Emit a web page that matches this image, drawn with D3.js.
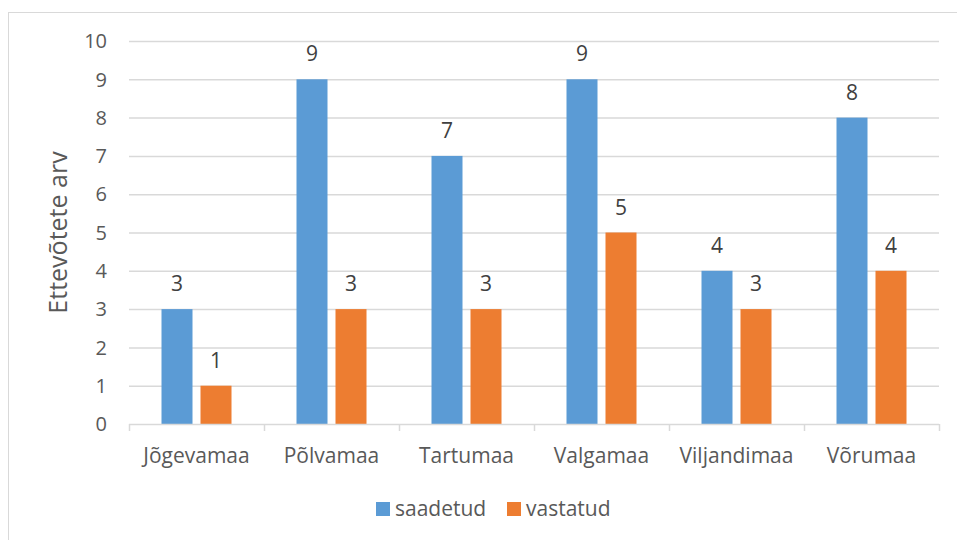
<!DOCTYPE html>
<html>
<head>
<meta charset="utf-8">
<script src="https://cdn.jsdelivr.net/npm/d3@7"></script>
<style>
  body { margin: 0; background: #fff; }
  text { font-family: "Open Sans", "Noto Sans", sans-serif; fill: #595959; }
</style>
</head>
<body>
<div id="chart"></div>
<script>
    // chart data
    const categories = ["Jõgevamaa", "Põlvamaa", "Tartumaa", "Valgamaa", "Viljandimaa", "Võrumaa"];
    const seriesNames = ["saadetud", "vastatud"];
    const saadetud = [3, 9, 7, 9, 4, 8];
    const vastatud = [1, 3, 3, 5, 3, 4];
    const yTicks = [0, 1, 2, 3, 4, 5, 6, 7, 8, 9, 10];
    const colors = ["#5b9bd5", "#ed7d31"];

    const W = 957, H = 540;
    const margin = {top: 41, right: 18, bottom: 116, left: 129};
    const width = W - margin.left - margin.right;
    const height = H - margin.top - margin.bottom;

    const root = d3.select("#chart").append("svg")
        .attr("width", W).attr("height", H);

    // outer chart border
    root.append("rect")
        .attr("x", 8.5).attr("y", 12.5)
        .attr("width", 960).attr("height", 560)
        .attr("fill", "none").attr("stroke", "#d9d9d9");

    const svg = root.append("g")
        .attr("transform", "translate(" + margin.left + "," + margin.top + ")");

    const x = d3.scaleBand().domain(categories).range([0, width]);
    const y = d3.scaleLinear().domain([0, 10]).range([height, 0]);

    // gridlines
    svg.selectAll(".grid").data(yTicks.slice(1)).enter().append("line")
        .attr("x1", 0).attr("x2", width)
        .attr("y1", d => y(d) + 0.5).attr("y2", d => y(d) + 0.5)
        .attr("stroke", "#d9d9d9").attr("stroke-width", 1.5);

    // y tick labels
    svg.selectAll(".ylab").data(yTicks).enter().append("text")
        .attr("x", -22).attr("y", d => y(d))
        .attr("dy", "0.36em").attr("text-anchor", "end")
        .style("font-size", "20px")
        .text(d => d);

    // bars
    const barW = 31, gap = 8;
    const series = [saadetud, vastatud];
    series.forEach((vals, s) => {
        const off = (x.bandwidth() - (2 * barW + gap)) / 2 + s * (barW + gap);
        svg.selectAll(".bar" + s).data(vals).enter().append("rect")
            .attr("x", (d, i) => x(categories[i]) + off)
            .attr("y", d => y(d))
            .attr("width", barW)
            .attr("height", d => height - y(d))
            .attr("fill", colors[s]);
        svg.selectAll(".lab" + s).data(vals).enter().append("text")
            .attr("x", (d, i) => x(categories[i]) + off + barW / 2)
            .attr("y", d => y(d) - 18)
            .attr("text-anchor", "middle")
            .style("font-size", "21px")
            .style("fill", "#404040")
            .text(d => d);
    });

    // x axis line and ticks
    svg.append("line")
        .attr("x1", 0).attr("x2", width)
        .attr("y1", height + 0.5).attr("y2", height + 0.5)
        .attr("stroke", "#d9d9d9").attr("stroke-width", 1.5);
    svg.selectAll(".xtick").data(d3.range(categories.length + 1)).enter().append("line")
        .attr("x1", i => i * x.step() + 0.5).attr("x2", i => i * x.step() + 0.5)
        .attr("y1", height).attr("y2", height + 7)
        .attr("stroke", "#d9d9d9").attr("stroke-width", 1.5);

    // category labels
    svg.selectAll(".xlab").data(categories).enter().append("text")
        .attr("x", d => x(d) + x.bandwidth() / 2)
        .attr("y", height + 39)
        .attr("text-anchor", "middle")
        .style("font-size", "21px")
        .text(d => d);

    // y axis title
    root.append("text")
        .attr("transform", "translate(67," + (margin.top + height / 2) + ") rotate(-90)")
        .attr("text-anchor", "middle")
        .style("font-size", "25px")
        .text("Ettevõtete arv");

    // legend
    const legX = [376, 507];
    seriesNames.forEach((n, s) => {
        root.append("rect")
            .attr("x", legX[s]).attr("y", 502)
            .attr("width", 14).attr("height", 14)
            .attr("fill", colors[s]);
        root.append("text")
            .attr("x", legX[s] + 19).attr("y", 516)
            .style("font-size", "21px")
            .text(n);
    });
</script>
</body>
</html>
